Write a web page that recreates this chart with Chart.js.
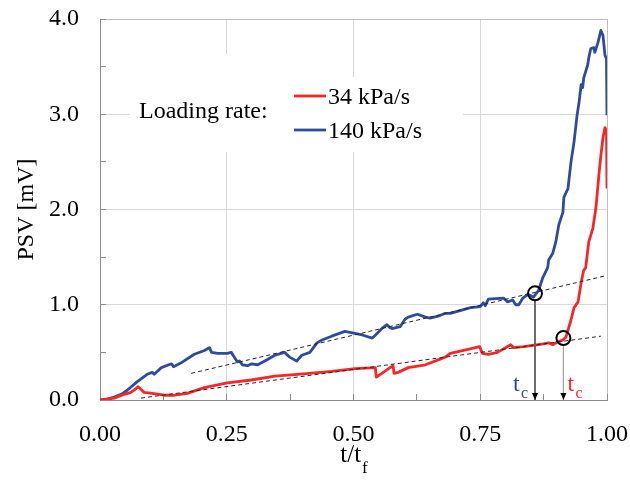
<!DOCTYPE html>
<html>
<head>
<meta charset="utf-8">
<title>PSV vs t/tf</title>
<script src="https://cdn.jsdelivr.net/npm/chart.js@4.4.1/dist/chart.umd.min.js"></script>
<style>
  body { margin: 0; background: #fff; }
  canvas { display: block; }
</style>
</head>
<body>
<canvas id="chart" width="630" height="481"></canvas>
<script>
const seriesLabels = ['34 kPa/s', '140 kPa/s']
const legendTitle = 'Loading rate:'

const xTickLabels = ['0.00', '0.25', '0.50', '0.75', '1.00']
const yTickLabels = ['0.0', '1.0', '2.0', '3.0', '4.0']

// 34 kPa/s
const redT = [0.000, 0.028, 0.048, 0.061, 0.071, 0.075, 0.079, 0.087, 0.103, 0.127, 0.147, 0.172, 0.206, 0.251,
              0.299, 0.345, 0.390, 0.457, 0.503, 0.543, 0.545, 0.556, 0.572, 0.578, 0.580, 0.588, 0.608, 0.642,
              0.681, 0.691, 0.717, 0.749, 0.754, 0.766, 0.784, 0.810, 0.816, 0.836, 0.850, 0.875, 0.885, 0.893,
              0.903, 0.913, 0.919, 0.923, 0.929, 0.935, 0.943, 0.949, 0.954, 0.958, 0.964, 0.972, 0.978, 0.984,
              0.988, 0.992, 0.996, 0.999, 1.000]
const redV = [0.00, 0.02, 0.06, 0.08, 0.12, 0.14, 0.12, 0.08, 0.07, 0.05, 0.05, 0.07, 0.13, 0.18,
              0.21, 0.25, 0.27, 0.30, 0.33, 0.34, 0.24, 0.28, 0.34, 0.36, 0.28, 0.29, 0.34, 0.37,
              0.45, 0.49, 0.52, 0.56, 0.49, 0.48, 0.50, 0.58, 0.55, 0.56, 0.57, 0.59, 0.60, 0.58,
              0.61, 0.63, 0.66, 0.73, 0.84, 0.97, 1.03, 1.23, 1.36, 1.39, 1.66, 1.80, 2.01, 2.36,
              2.57, 2.75, 2.86, 2.83, 2.22]

// 140 kPa/s
const blueT = [0.000, 0.015, 0.028, 0.042, 0.053, 0.073, 0.093, 0.103, 0.107, 0.121, 0.141, 0.145, 0.160, 0.186,
               0.206, 0.216, 0.220, 0.232, 0.251, 0.259, 0.265, 0.271, 0.275, 0.281, 0.291, 0.299, 0.311, 0.325,
               0.345, 0.364, 0.374, 0.388, 0.398, 0.414, 0.428, 0.438, 0.457, 0.483, 0.503, 0.519, 0.537, 0.543,
               0.558, 0.566, 0.572, 0.576, 0.592, 0.602, 0.608, 0.626, 0.642, 0.651, 0.667, 0.681, 0.691, 0.731,
               0.750, 0.756, 0.760, 0.766, 0.796, 0.804, 0.814, 0.820, 0.826, 0.834, 0.844, 0.855, 0.865, 0.873,
               0.883, 0.885, 0.893, 0.899, 0.905, 0.913, 0.915, 0.923, 0.929, 0.935, 0.941, 0.945, 0.949, 0.952,
               0.954, 0.962, 0.964, 0.968, 0.974, 0.976, 0.982, 0.988, 0.992, 0.996, 0.999, 1.000]
const blueV = [0.00, 0.01, 0.03, 0.06, 0.10, 0.19, 0.27, 0.29, 0.27, 0.34, 0.38, 0.35, 0.39, 0.48,
               0.52, 0.55, 0.50, 0.49, 0.49, 0.50, 0.45, 0.40, 0.41, 0.37, 0.36, 0.38, 0.37, 0.41,
               0.47, 0.50, 0.45, 0.41, 0.47, 0.50, 0.60, 0.63, 0.67, 0.72, 0.70, 0.68, 0.65, 0.68,
               0.76, 0.79, 0.76, 0.75, 0.77, 0.85, 0.87, 0.90, 0.87, 0.86, 0.88, 0.91, 0.91, 0.97,
               0.98, 1.02, 0.99, 1.06, 1.07, 1.03, 1.05, 1.00, 1.00, 1.07, 1.11, 1.08, 1.15, 1.28,
               1.39, 1.47, 1.54, 1.66, 1.84, 1.97, 2.13, 2.22, 2.50, 2.71, 2.99, 3.13, 3.31, 3.28,
               3.38, 3.52, 3.59, 3.69, 3.70, 3.65, 3.75, 3.88, 3.83, 3.62, 3.58, 2.99]

// linear fits of the stable part
const redTrendT = [0.081, 0.988]
const redTrendV = [0.02, 0.67]
const blueTrendT = [0.180, 0.994]
const blueTrendV = [0.28, 1.30]

// crack onset t_c : [140 kPa/s, 34 kPa/s]
const tcT = [0.858, 0.914]
const tcV = [1.12, 0.65]
const arrowTopV = [1.04, 0.57]

const FONT = 'Liberation Serif, "Times New Roman", serif'
const RED = '#f42828'
const BLUE = '#2f4c9c'
const AXIS = '#8c8c8c'

function toPoints(xs, ys) {
    return xs.map((x, i) => ({x: x, y: ys[i]}))
}

function onStep(v, step) {
    return Math.abs(v / step - Math.round(v / step)) < 1e-9
}

const annotations = {
    id: 'annotations',
    beforeDatasetsDraw(chart) {
        // white box behind the legend text hides the grid
        const ctx = chart.ctx
        const a = chart.chartArea
        ctx.save()
        ctx.fillStyle = '#fff'
        ctx.fillRect(a.left + 30, a.top + 35, 162, 98)
        ctx.fillRect(a.left + 190, a.top + 58, 173, 75)
        ctx.restore()
    },
    afterDatasetsDraw(chart) {
        const ctx = chart.ctx
        const a = chart.chartArea
        const sets = chart.data.datasets
        ctx.save()

        // legend
        ctx.font = '24px ' + FONT
        ctx.fillStyle = '#000'
        ctx.textBaseline = 'alphabetic'
        ctx.textAlign = 'left'
        ctx.fillText(legendTitle, a.left + 39, a.top + 99)
        const legendSets = [sets[3], sets[4]]
        legendSets.forEach((ds, i) => {
            const ly = a.top + 77 + i * 34
            ctx.strokeStyle = ds.borderColor
            ctx.lineWidth = 2.8
            ctx.beginPath()
            ctx.moveTo(a.left + 194, ly)
            ctx.lineTo(a.left + 226, ly)
            ctx.stroke()
            ctx.fillStyle = '#000'
            ctx.fillText(ds.label, a.left + 228, a.top + 85 + i * 34)
        })

        // arrow heads and t_c labels
        sets.forEach((ds, i) => {
            if (!ds.arrow) return
            const pts = chart.getDatasetMeta(i).data
            const tip = pts[pts.length - 1]
            ctx.fillStyle = '#000'
            ctx.beginPath()
            ctx.moveTo(tip.x, tip.y)
            ctx.lineTo(tip.x - 3, tip.y - 7)
            ctx.lineTo(tip.x + 3, tip.y - 7)
            ctx.closePath()
            ctx.fill()

            ctx.fillStyle = ds.labelColor
            ctx.font = '24px ' + FONT
            const tx = ds.labelSide < 0 ? tip.x - 22 : tip.x + 4
            ctx.fillText('t', tx, tip.y - 9)
            ctx.font = '16px ' + FONT
            ctx.fillText('c', tx + 8, tip.y - 2)
        })

        // x axis title t/t_f
        const cx = (a.left + a.right) / 2
        ctx.fillStyle = '#000'
        ctx.font = '25px ' + FONT
        const w1 = ctx.measureText('t/t').width
        ctx.font = '17px ' + FONT
        const w2 = ctx.measureText('f').width
        const sx = cx - (w1 + w2) / 2
        ctx.font = '25px ' + FONT
        ctx.fillText('t/t', sx, a.bottom + 62)
        ctx.font = '17px ' + FONT
        ctx.fillText('f', sx + w1 + 1, a.bottom + 73)
        ctx.restore()
    }
}

const chart = new Chart(document.getElementById('chart'), {
    type: 'line',
    data: {
        datasets: [
            {label: 't_c', data: toPoints(tcT, tcV), showLine: false, pointRadius: 7,
             pointBorderWidth: 2, pointBorderColor: '#000', pointBackgroundColor: 'rgba(0,0,0,0)', borderColor: '#000'},
            {label: 'fit 140', data: toPoints(blueTrendT, blueTrendV), borderColor: '#262626',
             borderWidth: 1, borderDash: [4, 3], pointRadius: 0},
            {label: 'fit 34', data: toPoints(redTrendT, redTrendV), borderColor: '#262626',
             borderWidth: 1, borderDash: [4, 3], pointRadius: 0},
            {label: seriesLabels[0], data: toPoints(redT, redV), borderColor: RED, borderWidth: 2.8, pointRadius: 0},
            {label: seriesLabels[1], data: toPoints(blueT, blueV), borderColor: BLUE, borderWidth: 2.8, pointRadius: 0},
            {label: 'arrow 140', data: toPoints([tcT[0], tcT[0]], [arrowTopV[0], 0]), borderColor: '#595959',
             borderWidth: 1, pointRadius: 0, arrow: true, labelColor: BLUE, labelSide: -1},
            {label: 'arrow 34', data: toPoints([tcT[1], tcT[1]], [arrowTopV[1], 0]), borderColor: '#a6a6a6',
             borderWidth: 1, pointRadius: 0, arrow: true, labelColor: RED, labelSide: 1}
        ]
    },
    options: {
        responsive: false,
        devicePixelRatio: 1,
        animation: false,
        events: [],
        elements: { line: { tension: 0, borderJoinStyle: 'round' } },
        layout: { padding: { top: 19, right: 23, left: 0, bottom: 0 } },
        plugins: { legend: { display: false }, tooltip: { enabled: false } },
        scales: {
            x: {
                type: 'linear', min: 0, max: 1,
                ticks: {
                    stepSize: 0.125, autoSkip: false, maxRotation: 0, padding: 26,
                    color: '#000', font: { family: FONT, size: 24 },
                    callback: v => onStep(v, 0.25) ? xTickLabels[Math.round(v / 0.25)] : ''
                },
                grid: {
                    color: c => {
                        const v = c.tick.value
                        if (v >= 1) return '#bfbfbf'
                        if (v > 0 && onStep(v, 0.25)) return '#d9d9d9'
                        return 'rgba(0,0,0,0)'
                    },
                    tickColor: AXIS, tickLength: -6
                },
                border: { color: AXIS, width: 1 },
                afterFit: s => { s.height = 81; s.paddingLeft = 0; s.paddingRight = 0 }
            },
            y: {
                type: 'linear', min: 0, max: 4,
                ticks: {
                    stepSize: 0.5, autoSkip: false, padding: 27,
                    color: '#000', font: { family: FONT, size: 24 },
                    callback: v => Number.isInteger(v) ? yTickLabels[v] : ''
                },
                grid: {
                    color: c => {
                        const v = c.tick.value
                        if (v >= 4) return '#bfbfbf'
                        if (v > 0 && Number.isInteger(v)) return '#d9d9d9'
                        return 'rgba(0,0,0,0)'
                    },
                    tickColor: AXIS, tickLength: -6
                },
                border: { color: AXIS, width: 1 },
                title: {
                    display: true, text: 'PSV [mV]', color: '#000',
                    font: { family: FONT, size: 24 }, padding: { top: 12, bottom: 0 }
                },
                afterFit: s => { s.width = 100; s.paddingTop = 0; s.paddingBottom = 0 }
            }
        }
    },
    plugins: [annotations]
})
</script>
</body>
</html>
